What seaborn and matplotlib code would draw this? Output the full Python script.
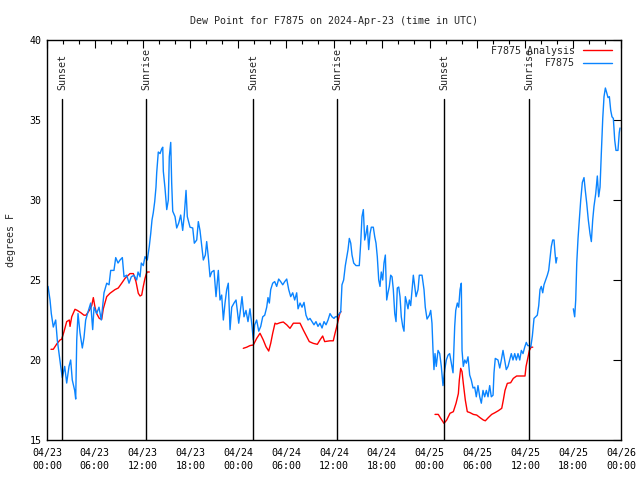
import numpy as np
import pandas as pd
import matplotlib
matplotlib.use("Agg")
import matplotlib.pyplot as plt
import matplotlib.dates as mdates
from matplotlib.lines import Line2D
import seaborn as sns

START = pd.Timestamp("2024-04-23 00:00")
END = pd.Timestamp("2024-04-26 00:00")

# Station observations (hours after 04/23 00:00 UTC, dew point °F); None marks a data gap
obs_hours = [
    0.13, 0.38, 0.54, 0.79, 1.09, 1.29, 1.51, 1.72, 1.92, 2.22, 2.47, 2.76, 2.97, 3.17, 3.47, 3.60,
    3.73, 3.89, 4.14, 4.43, 4.64, 4.85, 5.14, 5.48, 5.73, 5.90, 6.23, 6.52, 6.81, 7.15, 7.49, 7.78,
    7.99, 8.40, 8.62, 8.91, 9.16, 9.45, 9.66, 10.00, 10.29, 10.57, 10.91, 11.25, 11.42, 11.67, 11.83,
    12.08, 12.29, 12.58, 12.83, 13.01, 13.17, 13.33, 13.51, 13.67, 13.76, 13.96, 14.18, 14.39, 14.52,
    14.59, 14.80, 15.02, 15.22, 15.34, 15.52, 15.64, 15.77, 16.06, 16.27, 16.52, 16.77, 17.02, 17.22,
    17.44, 17.60, 17.94, 18.28, 18.48, 18.78, 18.98, 19.19, 19.41, 19.61, 19.86, 20.03, 20.23, 20.45,
    20.66, 20.95, 21.20, 21.49, 21.70, 21.91, 22.12, 22.33, 22.54, 22.74, 22.96, 23.17, 23.46, 23.71,
    23.87, 24.05, 24.21, 24.46, 24.71, 24.96, 25.21, 25.46, 25.72, 25.88, 26.05, 26.30, 26.56, 26.81,
    27.06, 27.31, 27.56, 27.72, 27.89, 28.06, 28.31, 28.56, 28.81, 29.06, 29.31, 29.57, 29.82, 30.07,
    30.32, 30.57, 30.82, 31.07, 31.32, 31.49, 31.74, 31.99, 32.24, 32.49, 32.74, 32.99, 33.24, 33.49,
    33.74, 33.99, 34.24, 34.50, 34.75, 35.00, 35.25, 35.50, 35.75, 36.00, 36.16, 36.34, 36.67, 36.84,
    37.00, 37.21, 37.42, 37.59, 37.76, 37.92, 38.10, 38.26, 38.47, 38.76, 39.17, 39.35, 39.51, 39.68,
    39.85, 40.02, 40.18, 40.35, 40.52, 40.68, 40.93, 41.11, 41.27, 41.43, 41.61, 41.77, 41.93, 42.11,
    42.27, 42.44, 42.61, 42.77, 42.94, 43.11, 43.28, 43.44, 43.62, 43.78, 43.94, 44.12, 44.28, 44.44,
    44.62, 44.78, 44.95, 45.12, 45.28, 45.45, 45.62, 45.79, 45.95, 46.13, 46.29, 46.54, 46.70, 47.04,
    47.29, 47.45, 47.67, 47.96, 48.13, 48.29, 48.42, 48.54, 48.67, 48.83, 49.05, 49.26, 49.46, 49.67,
    49.89, 50.09, 50.30, 50.51, 50.72, 50.93, 51.14, 51.27, 51.47, 51.64, 51.81, 51.97, 52.06, 52.22,
    52.40, 52.60, 52.81, 53.02, 53.22, 53.44, 53.65, 53.85, 54.06, 54.28, 54.48, 54.69, 54.90, 55.11,
    55.32, 55.53, 55.73, 55.95, 56.07, 56.23, 56.57, 56.79, 56.99, 57.20, 57.41, 57.61, 57.83, 58.04,
    58.24, 58.45, 58.67, 58.87, 59.08, 59.30, 59.50, 59.71, 59.92, 60.12, 60.30, 60.46, 60.68, 60.88,
    61.09, 61.30, 61.50, 61.68, 61.84, 62.00, 62.18, 62.34, 62.55, 62.76, 62.93, 63.10, 63.26, 63.43,
    63.60, 63.72, 63.85, 63.97, 65.00, 66.02, 66.19, 66.32, 66.45, 66.61, 66.77, 66.95, 67.15, 67.36,
    67.52, 67.70, 67.90, 68.11, 68.28, 68.45, 68.61, 68.83, 69.03, 69.20, 69.37, 69.53, 69.71, 69.87,
    70.04, 70.21, 70.37, 70.54, 70.71, 70.87, 71.04, 71.21, 71.37, 71.62, 71.78, 71.87,
]
obs_values = [
    24.6, 23.75, 22.9, 22.06, 22.5, 21.25, 20.4, 19.6, 18.9, 19.6, 18.56, 19.6, 20.0, 18.75, 18.1, 17.56,
    21.25, 22.9, 21.7, 20.75, 21.4, 22.5, 23.0, 23.56, 21.9, 23.3, 22.9, 23.3, 22.5, 24.2, 24.8, 24.7,
    25.6, 25.6, 26.4, 26.06, 26.25, 26.4, 25.2, 25.3, 24.8, 25.2, 25.3, 25.0, 25.5, 25.2, 26.06,
    25.9, 26.46, 26.25, 27.1, 27.9, 28.75, 29.2, 29.9, 30.8, 31.7, 33.0, 32.9, 33.2, 33.3,
    31.8, 30.75, 29.4, 30.0, 32.7, 33.6, 31.06, 29.3, 28.96, 28.25, 28.56, 29.06, 28.1, 29.06,
    30.6, 28.96, 28.3, 28.25, 27.3, 27.5, 28.65, 28.1, 27.1, 26.25, 26.56, 27.4, 26.46, 25.2,
    25.5, 25.6, 23.96, 25.6, 23.75, 24.06, 22.5, 23.56, 24.4, 24.8, 21.9, 23.3, 23.56, 23.75,
    23.1, 22.3, 22.9, 23.96, 22.7, 23.1, 22.4, 23.2, 22.1, 21.25, 22.2, 22.5, 21.8, 22.1,
    22.7, 22.8, 23.3, 23.9, 23.56, 24.4, 24.8, 24.9, 24.6, 25.06, 24.9, 24.7, 24.9, 25.06,
    24.4, 23.96, 24.2, 23.75, 24.2, 23.2, 23.56, 23.3, 23.6, 22.8, 22.5, 22.6, 22.4, 22.2,
    22.4, 22.1, 22.3, 22.0, 22.4, 22.2, 22.5, 22.9, 22.7, 22.6, 22.7, 22.7, 22.9, 23.0,
    24.7, 25.0, 25.9, 26.4, 26.9, 27.6, 27.3, 26.56, 26.06, 25.9, 25.9, 27.3, 28.96, 29.4,
    27.5, 27.9, 28.4, 26.9, 27.9, 28.3, 28.3, 27.7, 27.3, 26.46, 25.0, 24.6, 25.5, 25.0,
    26.06, 26.56, 23.75, 24.2, 24.6, 25.3, 25.2, 24.4, 22.9, 22.4, 24.5, 24.56, 23.96, 22.7,
    22.1, 21.8, 23.96, 23.6, 23.2, 23.75, 23.4, 24.4, 25.3, 24.6, 23.96, 24.4, 25.3, 25.3,
    24.4, 23.3, 22.56, 22.8, 23.1, 22.3, 20.6, 19.4, 20.4, 19.6, 20.6, 20.4, 19.6, 18.4,
    19.4, 20.0, 20.3, 20.4, 19.8, 19.2, 22.1, 23.1, 23.56, 23.3, 24.4, 24.8, 20.6, 19.6,
    20.0, 19.8, 20.2, 19.06, 18.75, 18.25, 18.3, 17.7, 18.4, 17.7, 17.3, 18.1, 17.7, 18.1,
    17.7, 18.4, 17.7, 17.8, 19.2, 20.1, 20.0, 19.5, 20.0, 20.6, 20.0, 19.4, 19.6, 20.0,
    20.4, 20.0, 20.4, 20.0, 20.4, 20.0, 20.6, 20.4, 20.8, 21.1, 20.9, 20.9, 20.8, 21.5,
    22.6, 22.7, 22.8, 23.4, 24.4, 24.6, 24.2, 24.7, 25.0, 25.3, 25.6, 26.4, 27.1, 27.5,
    27.5, 26.7, 26.06, 26.4, None, 23.2, 22.7, 23.75, 26.06, 27.6, 28.75, 30.0, 31.1, 31.4,
    30.6, 29.8, 28.75, 27.9, 27.4, 28.75, 29.6, 30.4, 31.5, 30.2, 30.8, 32.9, 35.1, 36.46,
    37.0, 36.7, 36.4, 36.46, 35.6, 35.2, 35.1, 33.75, 33.1, 33.1, 34.2, 34.5,
]

# Analysis series (hours after 04/23 00:00 UTC, dew point °F); None marks a gap
ana_hours = [
    0.50, 0.79, 1.22, 1.63, 1.84, 2.13, 2.47, 2.80, 2.89, 3.10, 3.51, 3.80, 4.23, 4.64, 4.89, 5.31,
    5.61, 5.81, 6.02, 6.23, 6.56, 6.86, 7.06, 7.49, 7.90, 8.53, 8.94, 9.37, 9.78, 10.41, 10.83, 11.16,
    11.45, 11.67, 11.88, 12.08, 12.29, 12.51, 12.58, 12.83,
    18.00,
    24.62, 25.05, 25.46, 25.88, 26.30, 26.72, 27.13, 27.47, 27.81, 28.06, 28.31, 28.60, 28.81, 29.23,
    29.64, 30.07, 30.48, 30.90, 31.74, 32.15, 32.58, 32.90, 33.40, 33.91, 34.24, 34.58, 34.83, 35.50,
    35.91, 36.13, 36.34, 36.54, 36.75, 36.88,
    42.00,
    48.67, 49.08, 49.39, 49.80, 50.14, 50.55, 50.97, 51.31, 51.60, 51.72, 51.89, 52.06, 52.22, 52.47,
    52.72, 53.06, 53.48, 53.90, 54.31, 54.73, 54.98, 55.36, 55.78, 56.20, 56.61, 57.04, 57.24, 57.45,
    57.74, 58.16, 58.49, 58.91, 59.54, 59.96, 60.09, 60.26, 60.51, 60.72, 60.93,
]
ana_values = [
    20.67, 20.67, 21.0, 21.25, 21.3, 21.77, 22.4, 22.5, 22.1, 22.7, 23.17, 23.1, 22.96, 22.8, 22.8, 23.1,
    23.4, 23.9, 23.3, 22.9, 22.6, 22.54, 23.2, 23.96, 24.17, 24.4, 24.5, 24.8, 25.1, 25.4, 25.4, 24.9,
    24.17, 24.0, 24.06, 24.6, 25.1, 25.46, 25.5, 25.5,
    None,
    20.73, 20.8, 20.9, 20.94, 21.35, 21.67, 21.25, 20.83, 20.56, 21.04, 21.67, 22.3, 22.25, 22.33,
    22.375, 22.2, 21.98, 22.3, 22.3, 21.875, 21.46, 21.15, 21.04, 20.98, 21.25, 21.5, 21.15, 21.2,
    21.2, 21.67, 22.08, 22.5, 22.96, 23.02,
    None,
    16.6, 16.6, 16.35, 16.04, 16.25, 16.67, 16.77, 17.3, 17.9, 18.75, 19.48, 19.27, 18.54, 17.5,
    16.77, 16.71, 16.6, 16.56, 16.4, 16.25, 16.2, 16.4, 16.6, 16.71, 16.83, 16.98, 17.5, 18.1,
    18.54, 18.58, 18.85, 19.0, 19.0, 19.0, 19.6, 20.0, 20.6, 20.8, 20.8,
]

sun_labels = ["Sunset", "Sunrise", "Sunset", "Sunrise", "Sunset", "Sunrise"]
sun_times = ["2024-04-23 01:53", "2024-04-23 12:25", "2024-04-24 01:51",
             "2024-04-24 12:23", "2024-04-25 01:48", "2024-04-25 12:28"]

title = "Dew Point for F7875 on 2024-Apr-23 (time in UTC)"
ylabel = "degrees F"
legend_labels = ["F7875 Analysis", "F7875"]
yticks = [15, 20, 25, 30, 35, 40]

RED = "#ff0000"
BLUE = "#0a84ff"
FS = 7.2


def make_frame(hours, values):
    df = pd.DataFrame({"h": hours, "v": values}, dtype=float)
    df["seg"] = df["v"].isna().cumsum()
    df = df.dropna()
    df["time"] = START + pd.to_timedelta(df["h"], unit="h")
    return df


obs = make_frame(obs_hours, obs_values)
ana = make_frame(ana_hours, ana_values)

sns.set_style("white")
plt.rcParams["font.family"] = ["DejaVu Sans Mono"]
plt.rcParams["font.size"] = FS

fig = plt.figure(figsize=(6.4, 4.8), dpi=100)
ax = fig.add_axes([47 / 640, 1 - 440 / 480, (621 - 47) / 640, 400 / 480])

sns.lineplot(data=ana, x="time", y="v", units="seg", estimator=None,
             color=RED, lw=1.0, ax=ax, legend=False)
sns.lineplot(data=obs, x="time", y="v", units="seg", estimator=None,
             color=BLUE, lw=1.0, ax=ax, legend=False)

for lab, t in zip(sun_labels, sun_times):
    tt = pd.Timestamp(t)
    ax.axvline(tt, ymin=0, ymax=(440 - 99) / 400, color="black", lw=1.0)
    ax.text(tt, 36.85, lab, rotation=90, ha="center", va="bottom", fontsize=FS)

ax.set_xlim(START, END)
ax.set_ylim(15, 40)
ax.set_yticks(yticks)
ax.xaxis.set_major_locator(mdates.HourLocator(byhour=[0, 6, 12, 18]))
ax.xaxis.set_minor_locator(mdates.HourLocator(interval=2))
ax.xaxis.set_major_formatter(mdates.DateFormatter("%m/%d\n%H:%M"))
for lbl in ax.get_xticklabels():
    lbl.set_linespacing(1.35)

ax.tick_params(which="both", direction="in", top=True, right=True, width=0.8,
               labelsize=FS, colors="black")
ax.tick_params(which="major", length=6, pad=6)
ax.tick_params(which="minor", length=3)
ax.tick_params(axis="y", which="major", pad=4)
for s in ax.spines.values():
    s.set_linewidth(1.0)
    s.set_color("black")

ax.set_xlabel("")
ax.set_ylabel(ylabel, fontsize=FS, labelpad=10)
ax.set_title(title, fontsize=FS, pad=11.5)

handles = [Line2D([], [], color=RED, lw=1.0), Line2D([], [], color=BLUE, lw=1.0)]
ax.legend(handles, legend_labels, loc="upper right", frameon=False, markerfirst=False,
          fontsize=FS, handlelength=2.9, handletextpad=0.8, labelspacing=0.25,
          borderaxespad=0.2, bbox_to_anchor=(0.995, 1.0))

fig.savefig("out.png", dpi=100)
